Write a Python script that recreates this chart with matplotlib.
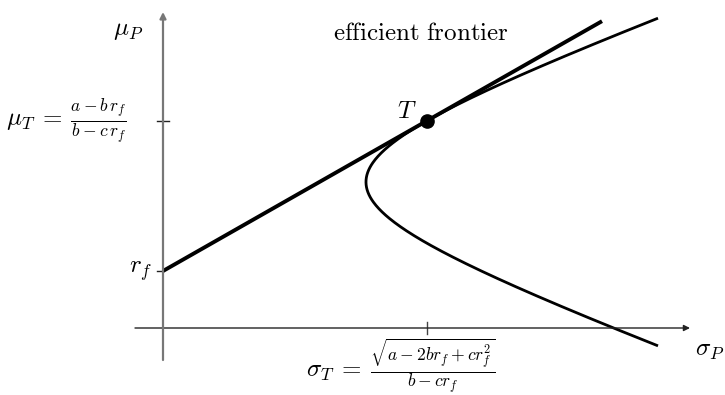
import numpy as np
import matplotlib
matplotlib.use("Agg")
import matplotlib.pyplot as plt

plt.rcParams["mathtext.fontset"] = "cm"
plt.rcParams["font.family"] = ["DejaVu Serif"]

# Frontier parameters: sigma^2 = (c*mu^2 - 2*b*mu + a) / (a*c - b^2)
a = 0.6489
b = 0.3543
c = 0.2427
r_f = 0.57
sigma_max = 4.95      # right end of the drawn frontier
line_sigma_end = 4.39  # right end of the capital market line

D = a * c - b ** 2
mu_min = b / c
half = np.sqrt(D / c * (sigma_max ** 2 - 1.0 / c))
mu = np.linspace(mu_min - half, mu_min + half, 400)
sigma = np.sqrt((c * mu ** 2 - 2 * b * mu + a) / D)

# Tangency portfolio
mu_T = (a - b * r_f) / (b - c * r_f)
sigma_T = np.sqrt(a - 2 * b * r_f + c * r_f ** 2) / (b - c * r_f)
slope = (mu_T - r_f) / sigma_T

fig = plt.figure(figsize=(7.25, 3.95), dpi=100)
ax = fig.add_axes([0, 0, 1, 1])
ax.set_xlim(-1.63, 5.62)
ax.set_ylim(-0.67, 3.28)
ax.axis("off")

# Coordinate axes with arrow heads
ax.annotate("", xy=(5.27, 0), xytext=(-0.28, 0),
            arrowprops=dict(arrowstyle="-|>", color="#222222", lw=1.0,
                            mutation_scale=9, shrinkA=0, shrinkB=0))
ax.annotate("", xy=(0, 3.16), xytext=(0, -0.32),
            arrowprops=dict(arrowstyle="-|>", color="#777777", lw=1.6,
                            mutation_scale=9, shrinkA=0, shrinkB=0))

# Tick marks
tk = 0.06
ax.plot([sigma_T, sigma_T], [-tk, tk], color="#444444", lw=1.0)
ax.plot([-tk, tk], [mu_T, mu_T], color="#222222", lw=1.0)
ax.plot([-tk, 0], [r_f, r_f], color="#222222", lw=1.0)

# Frontier and capital market line
ax.plot(sigma, mu, color="black", lw=2.0, solid_capstyle="butt")
xs = np.array([0.0, line_sigma_end])
ax.plot(xs, r_f + slope * xs, color="black", lw=2.8, solid_capstyle="butt")
ax.plot([sigma_T], [mu_T], "o", color="black", ms=9.5)

fs = 18
ax.text(-0.20, 2.98, r"$\mu_P$", fontsize=fs, ha="right", va="center")
ax.text(5.32, -0.22, r"$\sigma_P$", fontsize=fs, ha="left", va="center")
ax.text(-0.36, mu_T, r"$\mu_T\:=\:\frac{a - b\,r_f}{b - c\,r_f}$",
        fontsize=fs, ha="right", va="center")
ax.text(-0.11, r_f, r"$r_f$", fontsize=fs, ha="right", va="center")
ax.text(2.38, -0.38,
        r"$\sigma_T\:=\:\frac{\sqrt{a - 2br_f + cr_f^2}}{b - cr_f}$",
        fontsize=fs, ha="center", va="center")
ax.text(2.58, 2.95, r"$\mathrm{efficient\ frontier}$", fontsize=fs,
        ha="center", va="center")
ax.text(sigma_T - 0.20, mu_T + 0.10, r"$T$", fontsize=fs, ha="center",
        va="center")

fig.savefig("out.png", dpi=100)
